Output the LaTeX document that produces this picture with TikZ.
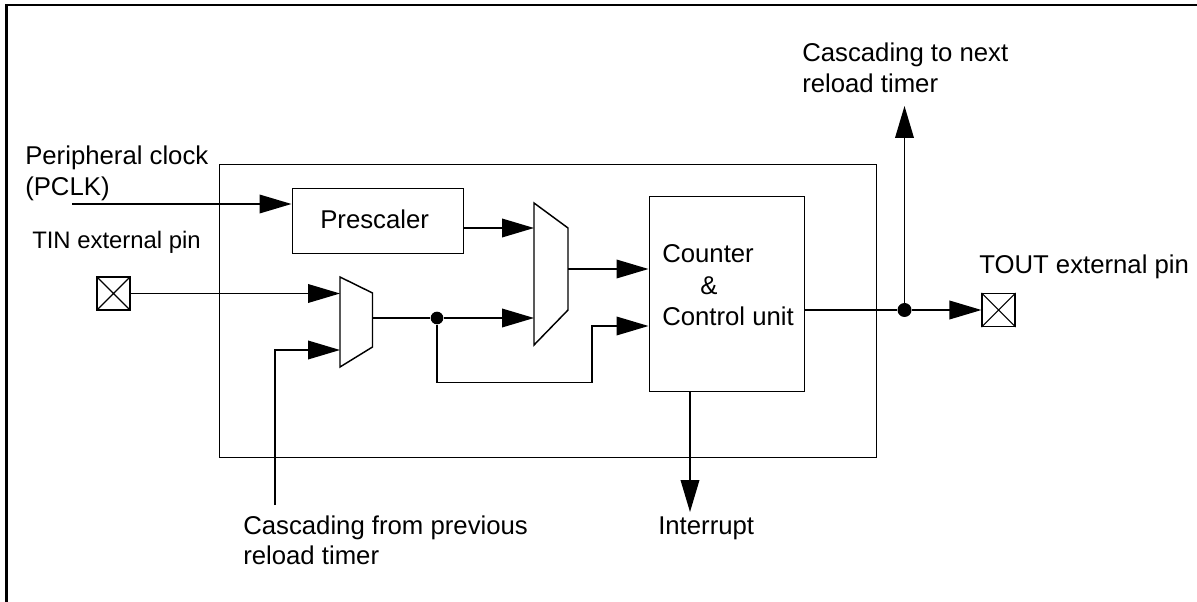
\documentclass[tikz,border=0pt]{standalone}
\usepackage{fontspec}
\setmainfont{Liberation Sans}
\usetikzlibrary{arrows.meta}
\tikzset{
  x=0.75pt,y=-0.75pt,
  wire/.style={line width=1.1pt,line cap=butt},
  arrowwire/.style={wire,-{Triangle[length=24pt,width=14pt]}},
  blockbox/.style={draw,line width=1.1pt,rectangle,inner sep=0pt,anchor=north west},
  pinbox/.style={draw,line width=1.1pt,rectangle,inner sep=0pt,minimum size=24.5pt},
  label/.style={inner sep=0pt,anchor=base west,font=\fontsize{19.3pt}{22pt}\selectfont},
  junction/.style={circle,fill,inner sep=0pt,minimum width=9.5pt,minimum height=8.5pt},
  muxshape/.style={line width=1.1pt,line join=miter}
}
\begin{document}
\begin{tikzpicture}
\useasboundingbox (0,0) rectangle (1197,602);
% outer frame
\draw[line width=1.6pt] (6.5,602) -- (6.5,5) -- (1197,5);
% main blocks
\node[blockbox,minimum width=492.75pt,minimum height=219.5pt] (chip) at (219,164) {};
\node[blockbox,minimum width=128.25pt,minimum height=48.75pt] (prescaler) at (291.5,188) {};
\node[label] (prescalertext) at (320,228.5) {Prescaler};
\node[blockbox,minimum width=116.5pt,minimum height=146pt] (counter) at (648.5,196) {};
% multiplexers
\coordinate (ma) at (340,277); \coordinate (mb) at (372.5,293); \coordinate (mc) at (372.5,347); \coordinate (md) at (340,367);
\draw[muxshape] (ma) -- (mb) -- (mc) -- (md) -- cycle;
\coordinate (na) at (534,203); \coordinate (nb) at (568,228); \coordinate (nc) at (568,310); \coordinate (nd) at (534,345);
\draw[muxshape] (na) -- (nb) -- (nc) -- (nd) -- cycle;
% pins
\node[pinbox] (tin) at (113.5,293.5) {};
\draw[line width=0.8pt] (tin.north west) -- (tin.south east) (tin.north east) -- (tin.south west);
\node[pinbox] (tout) at (998.5,310) {};
\draw[line width=0.8pt] (tout.north west) -- (tout.south east) (tout.north east) -- (tout.south west);
% junctions and free ends
\node[junction] (j1) at (437,318) {};
\node[junction,minimum width=10.5pt,minimum height=9pt] (j2) at (904.5,310) {};
\coordinate (pclk) at (72,204);
\coordinate (cprev) at (275,505);
\coordinate (cnext) at (904.5,106);
\coordinate (irq) at (690,512);
\coordinate (m1in1) at (340,293.5);
\coordinate (m1in2) at (340,350);
\coordinate (m1out) at (372.5,318);
\coordinate (m2in1) at (534,228);
\coordinate (m2in2) at (534,318);
\coordinate (m2out) at (568,269);
% connectors
\draw[arrowwire] (pclk) -- (prescaler.west |- pclk);
\draw[arrowwire] (tin.east) -- (m1in1);
\draw[arrowwire] (cprev) |- (m1in2);
\draw[wire] (m1out) -- (j1);
\draw[arrowwire] (j1) -- (m2in2);
\draw[arrowwire] (prescaler.east |- m2in1) -- (m2in1);
\draw[arrowwire] (m2out) -- (counter.west |- m2out);
\draw[arrowwire] (j1) -- (437,382.5) -| (592,326) -- (counter.west |- 0,326);
\draw[wire] (counter.east |- j2) -- (j2);
\draw[arrowwire] (j2) -- (tout.west);
\draw[arrowwire] (j2) -- (cnext);
\draw[arrowwire] (counter.south -| irq) -- (irq);
% labels
\node[label] (l1) at (25,165) {Peripheral clock};
\node[label] (l2) at (25,195.5) {(PCLK)};
\node[label,font=\fontsize{17.9pt}{22pt}\selectfont] (l3) at (32,249) {TIN external pin};
\node[label] (l4) at (979,274) {TOUT external pin};
\node[label] (l5) at (802,62) {Cascading to next};
\node[label] (l6) at (802,93) {reload timer};
\node[label] (l7) at (662,263) {Counter};
\node[label] (l8) at (700,295) {\&};
\node[label] (l9) at (662,326) {Control unit};
\node[label] (l10) at (243,534) {Cascading from previous};
\node[label] (l11) at (243,564) {reload timer};
\node[label] (l12) at (658,534) {Interrupt};
\end{tikzpicture}
\end{document}
